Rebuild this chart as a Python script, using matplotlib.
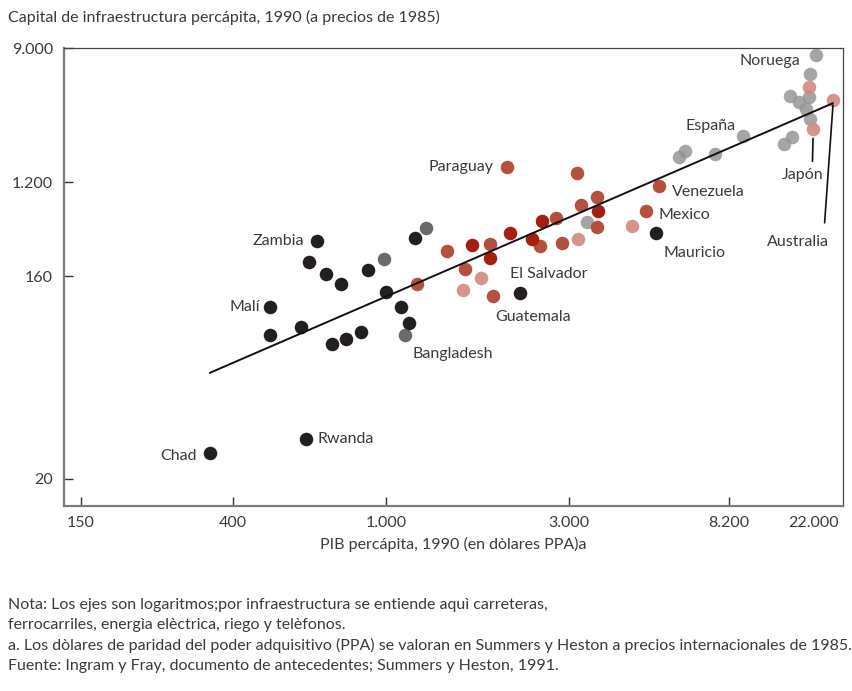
import numpy as np
import matplotlib
matplotlib.use('Agg')
import matplotlib.pyplot as plt

# valores (PIB percápita, capital de infraestructura percápita)
black_x = [663, 631, 697, 765, 900, 1187, 998, 499, 601, 499, 725, 789, 859, 1096, 1148, 2235, 5180, 345, 618]
black_y = [341, 216, 167, 147, 181, 360, 136, 117, 95, 87, 80, 84, 90, 116, 99, 134, 402, 26, 30]

darkgray_x = [990, 1269, 1121]
darkgray_y = [230, 446, 87]

gray_x = [3365, 5990, 6220, 7522, 9681, 15580, 17100, 22440, 21010, 16650, 18550, 20760, 19980, 21010]
gray_y = [506, 1755, 1912, 1820, 2407, 2115, 2372, 8141, 6064, 4375, 4016, 4330, 3597, 3081]

red_x = [2064, 3149, 3570, 3235, 3584, 5292, 4882, 2775, 2521, 2876, 1867, 1445, 1610, 1904, 1201]
red_y = [1497, 1374, 865, 733, 460, 1113, 638, 555, 302, 323, 320, 272, 187, 131, 148]

darkred_x = [3607, 2551, 2105, 2403, 1679, 1864]
darkred_y = [641, 524, 400, 356, 309, 235]

pink_x = [20760, 27530, 21820, 4457, 3175, 1768, 1591]
pink_y = [5031, 4101, 2651, 470, 354, 157, 138]

# recta de regresión
fit_x = [345, 27340]
fit_y = [59.4, 3920]

# países con nombre
countries = ['Noruega', 'España', 'Paraguay', 'Venezuela', 'Mexico', 'Mauricio', 'Zambia',
             'Malí', 'El Salvador', 'Guatemala', 'Bangladesh', 'Rwanda', 'Chad']
country_x = [22440, 9681, 2064, 5292, 4882, 5180, 663, 499, 2235, 2235, 1121, 618, 345]
country_y = [8141, 2407, 1497, 1113, 638, 402, 341, 117, 134, 134, 87, 30, 26]

xtick_vals = [150, 400, 1000, 3000, 8200, 22000]
xtick_labels = ['150', '400', '1.000', '3.000', '8.200', '22.000']
ytick_vals = [20, 160, 1200, 9000]
ytick_labels = ['20', '160', '1.200', '9.000']

title = 'Capital de infraestructura percápita, 1990 (a precios de 1985)'
xlabel = 'PIB percápita, 1990 (en dòlares PPA)a'
notes = [
    'Nota: Los ejes son logaritmos;por infraestructura se entiende aquì carreteras,',
    'ferrocarriles, energìa elèctrica, riego y telèfonos.',
    'a. Los dòlares de paridad del poder adquisitivo (PPA) se valoran en Summers y Heston a precios internacionales de 1985.',
    'Fuente: Ingram y Fray, documento de antecedentes; Summers y Heston, 1991.',
]

plt.rcParams['font.family'] = ['Lato', 'DejaVu Sans']
TXT = '#3a3a3a'
FS = 11.5


def piecewise_log(vals, pos):
    # escala logarítmica por tramos: las marcas del original no están equiespaciadas
    lv = np.log10(vals)
    pos = np.asarray(pos, float)
    L = np.r_[lv[0] - 10 * (lv[1] - lv[0]), lv, lv[-1] + 10 * (lv[-1] - lv[-2])]
    P = np.r_[pos[0] - 10 * (pos[1] - pos[0]), pos, pos[-1] + 10 * (pos[-1] - pos[-2])]

    def fwd(v):
        v = np.asarray(v, float)
        return np.interp(np.log10(np.where(v > 0, v, 1e-12)), L, P)

    def inv(p):
        return 10 ** np.interp(p, P, L)
    return fwd, inv


W, H = 853, 691
fig = plt.figure(figsize=(W / 100, H / 100), dpi=100)
ax = fig.add_axes([64 / W, 1 - 506 / H, (843 - 64) / W, (506 - 48) / H])

fx, ix = piecewise_log(xtick_vals, [17, 169, 322, 505, 665, 750])
fy, iy = piecewise_log(ytick_vals, [27, 230, 324, 458])
ax.set_xscale('function', functions=(fx, ix))
ax.set_yscale('function', functions=(fy, iy))
ax.set_xlim(ix(0), ix(779))
ax.set_ylim(iy(0), iy(458))

ax.plot(fit_x, fit_y, color='#111111', lw=1.4, zorder=4)

ms = 95
ax.scatter(gray_x, gray_y, s=ms, color='#959595', alpha=0.85, lw=0, zorder=2)
ax.scatter(pink_x, pink_y, s=ms, color='#d28a80', alpha=0.9, lw=0, zorder=3)
ax.scatter(red_x, red_y, s=ms, color='#b4503e', lw=0, zorder=3)
ax.scatter(darkred_x, darkred_y, s=ms, color='#a3200f', lw=0, zorder=3)
ax.scatter(darkgray_x, darkgray_y, s=ms, color='#6a6a6a', lw=0, zorder=3)
ax.scatter(black_x, black_y, s=ms, color='#231f20', lw=0, zorder=3)

# etiquetas: desplazamiento en píxeles y alineación
offsets = [(-15, -6, 'right'), (-8, 10, 'right'), (-13, 0, 'right'), (13, -6, 'left'),
           (12, -4, 'left'), (8, -20, 'left'), (-13, 0, 'right'), (-10, 0, 'right'),
           (-10, 19, 'left'), (-25, -24, 'left'), (7, -19, 'left'), (12, 0, 'left'),
           (-13, -3, 'right')]
for name, x, y, (dx, dy, ha) in zip(countries, country_x, country_y, offsets):
    ax.annotate(name, (x, y), xytext=(dx, dy), textcoords='offset pixels',
                ha=ha, va='center', fontsize=FS, color=TXT)

ax.annotate('Japón', (pink_x[2], pink_y[2]), xytext=(-11, -46), textcoords='offset pixels',
            ha='center', va='center', fontsize=FS, color=TXT,
            arrowprops=dict(arrowstyle='-', color='#111111', lw=1.2,
                            relpos=(0.74, 1.0), shrinkA=3, shrinkB=6.5))
ax.annotate('Australia', (pink_x[1], pink_y[1]), xytext=(-35, -142), textcoords='offset pixels',
            ha='center', va='center', fontsize=FS, color=TXT,
            arrowprops=dict(arrowstyle='-', color='#111111', lw=1.2,
                            relpos=(0.91, 1.0), shrinkA=7, shrinkB=3.5))

ax.set_xticks(xtick_vals, xtick_labels)
ax.set_yticks(ytick_vals, ytick_labels)
ax.minorticks_off()
ax.tick_params(direction='in', length=6.5, width=1, color='#333333',
               labelsize=FS, labelcolor=TXT)
ax.tick_params(axis='x', pad=7)
ax.tick_params(axis='y', pad=8)
ax.xaxis.get_major_ticks()[-1].tick1line.set_visible(False)

for side in ['left', 'bottom']:
    ax.spines[side].set_color('#7a7a7a')
    ax.spines[side].set_linewidth(1.6)
for side in ['top', 'right']:
    ax.spines[side].set_color('#444444')
    ax.spines[side].set_linewidth(0.9)

ax.set_xlabel(xlabel, fontsize=FS, color=TXT, labelpad=5)

fig.text(8 / W, 1 - 17 / H, title, fontsize=FS, color=TXT, va='center', ha='left')
for i, line in enumerate(notes):
    fig.text(8 / W, 1 - (605 + 20.4 * i) / H, line, fontsize=FS, color=TXT, va='center', ha='left')

fig.savefig('out.png', dpi=100)
